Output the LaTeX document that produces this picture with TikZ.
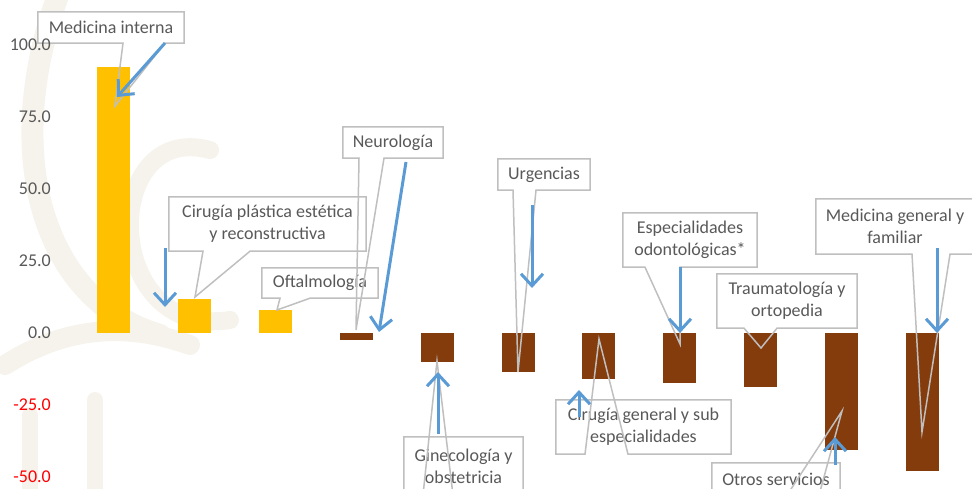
\documentclass[tikz,border=0pt]{standalone}
\usepackage{fontspec}
\setmainfont{Carlito}
\usetikzlibrary{arrows.meta}

\definecolor{amarillo}{HTML}{FFC000}
\definecolor{cafe}{HTML}{843C0C}
\definecolor{grisborde}{HTML}{BFBFBF}
\definecolor{gristexto}{HTML}{595959}
\definecolor{azul}{HTML}{5B9BD5}
\definecolor{fondo}{HTML}{F6F3EC}

\tikzset{
  etiqueta/.style={fill=white, text=gristexto, align=center, inner sep=0pt,
                   font=\fontsize{18}{22}\selectfont},
  globo/.style={draw=grisborde, line width=1.5pt},
  flecha/.style={draw=azul, line width=3pt, -{Straight Barb[length=12pt,width=22pt]}},
  marca/.style={anchor=east, inner sep=0pt, font=\fontsize{18}{22}\selectfont},
  sello/.style={draw=fondo, line cap=round}
}

% contorno del globo: nodo, x base izq, x base der, punta
\newcommand{\globo}[4]{%
  \draw[globo] (#2,0 |- #1.south) -- (#1.south west) -- (#1.north west)
     -- (#1.north east) -- (#1.south east) -- (#3,0 |- #1.south) -- #4 -- cycle;}

\begin{document}
\begin{tikzpicture}[x=1pt,y=-1pt]
\useasboundingbox (0,0) rectangle (972,489);

% marca de agua
\draw[sello, line width=22pt] (60,-10) .. controls (0,150) and (40,300) .. (160,335);
\draw[sello, line width=18pt] (210,150) .. controls (100,120) and (100,340) .. (230,320);
\draw[sello, line width=20pt] (5,365) .. controls (60,330) and (120,320) .. (190,345);
\draw[sello, line width=16pt] (95,400) -- (95,495);
\draw[sello, line width=16pt] (30,415) -- (30,495);

% barras
\foreach \v/\c [count=\i from 0] in {92.4/amarillo, 11.8/amarillo, 8.0/amarillo,
    -2.4/cafe, -10.1/cafe, -13.4/cafe, -15.9/cafe, -17.2/cafe, -18.6/cafe,
    -40.5/cafe, -47.8/cafe}
  \fill[\c] ({97+80.9*\i},333) rectangle ++(33,{-2.88*\v});

% globos
\node[etiqueta, minimum width=146pt, minimum height=31pt] (medint) at (111,27.5) {Medicina interna};
\node[etiqueta, minimum width=197pt, minimum height=54pt] (cirplas) at (267.5,224) {Cirugía plástica estética\\y reconstructiva};
\node[etiqueta, minimum width=116pt, minimum height=30pt] (oftal) at (320,283) {Oftalmología};
\node[etiqueta, minimum width=100pt, minimum height=31pt] (neuro) at (393,142.5) {Neurología};
\node[etiqueta, minimum width=119pt, minimum height=58pt] (gine) at (463.5,466) {Ginecología y\\obstetricia};
\node[etiqueta, minimum width=92pt, minimum height=31pt] (urg) at (544,174.5) {Urgencias};
\node[etiqueta, minimum width=175pt, minimum height=54pt] (cirgen) at (643.5,427) {Cirugía general y sub\\especialidades};
\node[etiqueta, minimum width=134pt, minimum height=54pt] (odon) at (690,240) {Especialidades\\odontológicas*};
\node[etiqueta, minimum width=140pt, minimum height=54pt] (trauma) at (787,301) {Traumatología y\\ortopedia};
\node[etiqueta, minimum width=128pt, minimum height=32pt] (otros) at (776,479) {Otros servicios};
\node[etiqueta, minimum width=158pt, minimum height=55pt] (medgen) at (895,226.5) {Medicina general y\\familiar};

\globo{medint}{123}{165}{(115,106)}
\globo{cirplas}{203}{250}{(195,297)}
\globo{oftal}{280}{310}{(277,310)}
\globo{neuro}{359}{384}{(356,330)}
\globo{gine}{423}{453}{(437,361)}
\globo{urg}{513}{536}{(518,372)}
\globo{cirgen}{585}{628}{(599,339)}
\globo{odon}{645}{680}{(680,344)}
\globo{trauma}{744}{777}{(761,348)}
\globo{otros}{787}{819}{(842,411)}
\globo{medgen}{912}{950}{(922,432)}

% eje
\foreach \t/\c in {100.0/gristexto, 75.0/gristexto, 50.0/gristexto, 25.0/gristexto,
    0.0/gristexto, -25.0/red, -50.0/red}
  \node[marca, text=\c] at (51,{333-2.88*\t}) {\t};

% flechas azules
\draw[flecha] (165,43) -- (117,97);
\draw[flecha] (165,248) -- (165,307);
\draw[flecha] (406,162) -- (379,332);
\draw[flecha] (438,434) -- (438,372);
\draw[flecha] (532,205) -- (532,288);
\draw[flecha] (579,417) -- (579,390);
\draw[flecha] (680,267) -- (680,333);
\draw[flecha] (835,465) -- (835,437);
\draw[flecha] (937,248) -- (937,333);
\end{tikzpicture}
\end{document}
